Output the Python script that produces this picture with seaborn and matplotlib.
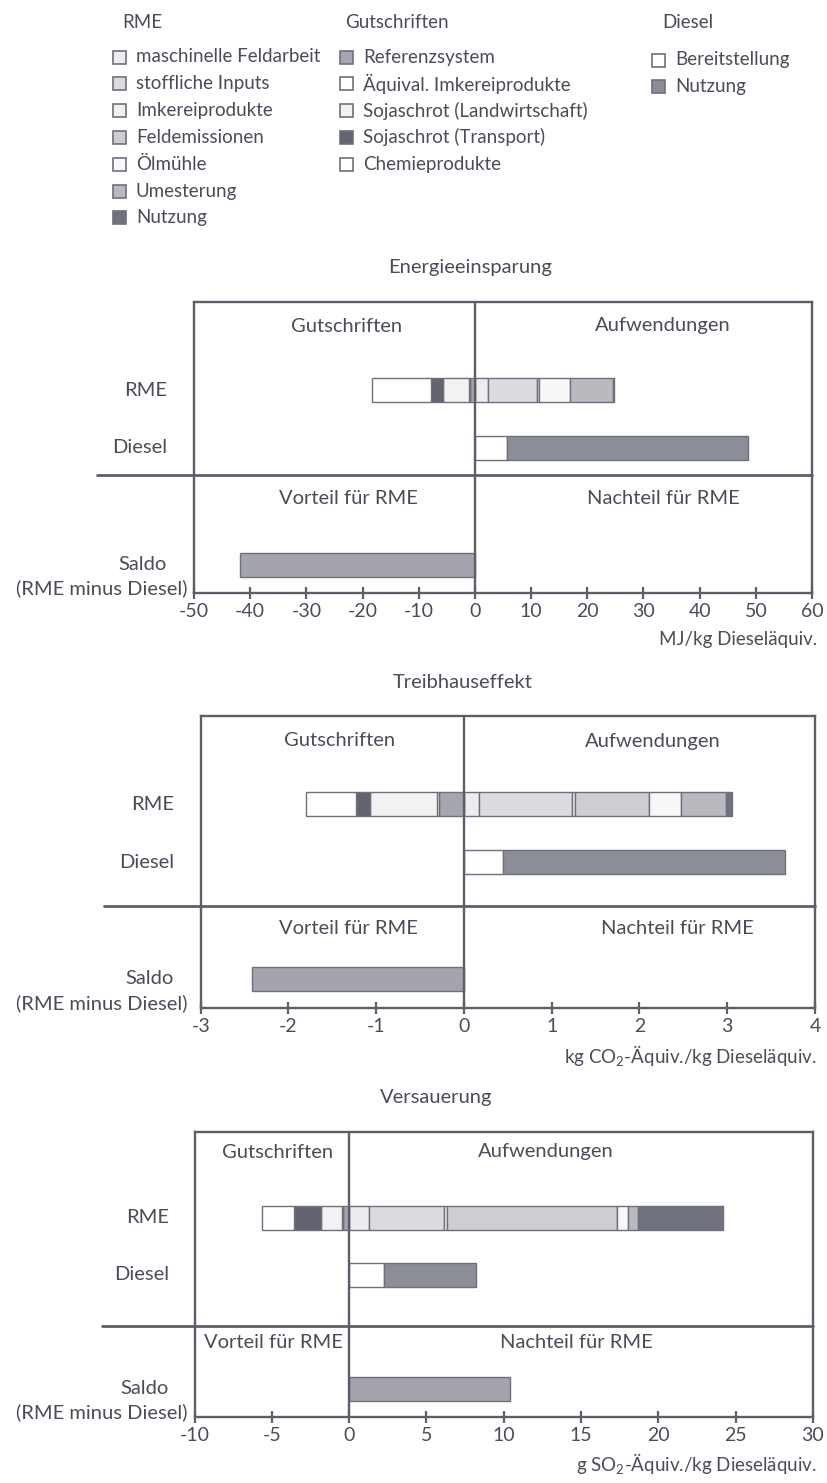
import matplotlib
matplotlib.use("Agg")
import matplotlib.pyplot as plt
import matplotlib.transforms as mtransforms
from matplotlib.patches import Rectangle
import seaborn as sns

# --- Legend categories and colours ---
rme_parts = ["maschinelle Feldarbeit", "stoffliche Inputs", "Imkereiprodukte",
             "Feldemissionen", "Ölmühle", "Umesterung", "Nutzung"]
rme_colors = ["#EDEDEF", "#DCDCE0", "#F1F1F1", "#CDCDD2", "#F7F8F7", "#B9BAC0", "#70727E"]
credit_parts = ["Referenzsystem", "Äquival. Imkereiprodukte", "Sojaschrot (Landwirtschaft)",
                "Sojaschrot (Transport)", "Chemieprodukte"]
credit_colors = ["#A5A6AF", "#FFFFFF", "#F2F2F2", "#62656F", "#FFFFFF"]
diesel_parts = ["Bereitstellung", "Nutzung"]
diesel_colors = ["#FFFFFF", "#8B8D97"]
saldo_color = "#A3A4AD"

# --- Values (credits given as positive amounts) ---
energy_rme = [2.25, 8.78, 0.3, 0.0, 5.58, 7.71, 0.18]
energy_credit = [0.89, 0.2, 4.57, 2.08, 10.56]
energy_diesel = [5.69, 42.9]
energy_saldo = -41.9

ghg_rme = [0.175, 1.06, 0.027, 0.85, 0.357, 0.516, 0.068]
ghg_credit = [0.285, 0.02, 0.763, 0.167, 0.569]
ghg_diesel = [0.44, 3.22]
ghg_saldo = -2.41

acid_rme = [1.29, 4.85, 0.19, 10.99, 0.71, 0.65, 5.50]
acid_credit = [0.39, 0.1, 1.36, 1.72, 2.05]
acid_diesel = [2.24, 5.93]
acid_saldo = 10.4

row_names = ["RME", "Diesel"]

W, H = 828, 1483
LINE = "#5C5E6A"
TXT = "#4A4C58"
EDGE = "#6E707C"
FS = 14.5

sns.set_theme(style="white")
plt.rcParams["font.family"] = ["Lato", "DejaVu Sans"]
plt.rcParams["axes.unicode_minus"] = False
plt.rcParams["mathtext.default"] = "regular"

fig = plt.figure(figsize=(W / 100, H / 100), dpi=100)


def fx(px):
    return px / W


def fy(py):
    return 1 - py / H


def draw_legend():
    lax = fig.add_axes([0, fy(240), 1, 240 / H])
    lax.set_xlim(0, W)
    lax.set_ylim(240, 0)
    lax.axis("off")
    groups = [("RME", 122, 113, rme_parts, rme_colors, 57),
              ("Gutschriften", 345, 340, credit_parts, credit_colors, 57),
              ("Diesel", 662, 652, diesel_parts, diesel_colors, 60)]
    for title, tx, px, names, cols, y0 in groups:
        lax.text(tx, 22, title, fontsize=13.5, color=TXT, va="center", ha="left")
        for i, (n, c) in enumerate(zip(names, cols)):
            y = y0 + i * 26.8
            lax.add_patch(Rectangle((px, y - 6.5), 13, 13, facecolor=c,
                                    edgecolor=EDGE, lw=1.2))
            lax.text(px + 23, y, n, fontsize=13.5, color=TXT, va="center", ha="left")


def draw_chart(cfg, rme, credit, diesel, saldo):
    left, right, top, bottom = cfg["box"]
    hc = bottom - top
    ax = fig.add_axes([fx(left), fy(bottom), fx(right - left), hc / H])
    bh = 24
    y_rme, y_dsl, y_sal = (cfg["rows"][0] - top, cfg["rows"][1] - top, cfg["rows"][2] - top)

    # stacked RME expenditures (right of zero)
    acc = 0.0
    for v, c in zip(rme, rme_colors):
        if v > 0:
            ax.barh(y_rme, v, left=acc, height=bh, color=c, edgecolor=EDGE, lw=1)
        acc += v
    # stacked credits (left of zero)
    acc = 0.0
    for v, c in zip(credit, credit_colors):
        if v > 0:
            ax.barh(y_rme, -v, left=acc, height=bh, color=c, edgecolor=EDGE, lw=1)
        acc -= v
    # diesel
    acc = 0.0
    for v, c in zip(diesel, diesel_colors):
        ax.barh(y_dsl, v, left=acc, height=bh, color=c, edgecolor=EDGE, lw=1)
        acc += v
    # saldo
    sns.barplot(x=[saldo], y=[y_sal], orient="h", native_scale=True, width=bh,
                color=saldo_color, edgecolor=EDGE, linewidth=1, saturation=1, ax=ax)

    ax.set_xlim(*cfg["xlim"])
    ax.set_ylim(hc, 0)
    ax.set_xticks(cfg["ticks"])
    ax.set_xticklabels([str(t) for t in cfg["ticks"]])
    ax.set_yticks([])
    ax.set_xlabel("")
    ax.set_ylabel("")
    ax.tick_params(axis="x", direction="inout", length=8, width=1.6, color=LINE,
                   labelsize=14, labelcolor=TXT, pad=3, bottom=True)
    for s in ax.spines.values():
        s.set_color(LINE)
        s.set_linewidth(1.7)
    ax.axvline(0, color=LINE, lw=1.7, zorder=5)

    # divider between the comparison and the balance
    trans = mtransforms.blended_transform_factory(fig.transFigure, ax.transData)
    ax.plot([fx(cfg["div_x"]), fx(right)], [cfg["div"] - top] * 2, color=LINE,
            lw=2, transform=trans, clip_on=False)

    # section captions
    ft = fig.transFigure
    kw = dict(fontsize=FS, color=TXT, ha="center", va="center", transform=ft)
    (gx, ax_), (vx, nx) = cfg["cap_x"]
    fig.text(fx(gx), fy(cfg["cap_y"][0]), "Gutschriften", **kw)
    fig.text(fx(ax_), fy(cfg["cap_y"][0]), "Aufwendungen", **kw)
    fig.text(fx(vx), fy(cfg["cap_y"][1]), "Vorteil für RME", **kw)
    fig.text(fx(nx), fy(cfg["cap_y"][1]), "Nachteil für RME", **kw)
    fig.text(fx(cfg["title"][0]), fy(cfg["title"][1]), cfg["name"], **kw)

    # row labels
    rk = dict(fontsize=FS, color=TXT, ha="right", va="center", transform=ft)
    fig.text(fx(cfg["lab_x"]), fy(cfg["rows"][0]), row_names[0], **rk)
    fig.text(fx(cfg["lab_x"]), fy(cfg["rows"][1]), row_names[1], **rk)
    fig.text(fx(cfg["lab_x"]), fy(cfg["rows"][2]), "Saldo", **rk)
    fig.text(fx(188), fy(bottom - 5), "(RME minus Diesel)", **rk)

    fig.text(fx(817), fy(bottom + 47), cfg["unit"], fontsize=13.5, color=TXT,
             ha="right", va="center", transform=ft)
    return ax


charts = [
    (dict(name="Energieeinsparung", box=(194, 812, 302, 593), xlim=(-50, 60),
          ticks=list(range(-50, 61, 10)), rows=(390, 447.5, 564.5), div=475, div_x=97,
          cap_x=((347, 663), (348, 663)), cap_y=(326, 498), title=(470, 268),
          lab_x=167, unit="MJ/kg Dieseläquiv."),
     energy_rme, energy_credit, energy_diesel, energy_saldo),
    (dict(name="Treibhauseffekt", box=(200.7, 815, 716, 1008), xlim=(-3, 4),
          ticks=list(range(-3, 5)), rows=(804, 862, 979), div=905.7, div_x=104,
          cap_x=((340, 653), (348, 677)), cap_y=(741, 929), title=(463, 683),
          lab_x=174, unit="kg CO$_2$-Äquiv./kg Dieseläquiv."),
     ghg_rme, ghg_credit, ghg_diesel, ghg_saldo),
    (dict(name="Versauerung", box=(194.6, 813, 1132, 1417), xlim=(-10, 30),
          ticks=list(range(-10, 31, 5)), rows=(1217.5, 1275, 1389), div=1326, div_x=102,
          cap_x=((278, 546), (273, 576)), cap_y=(1152, 1343), title=(436, 1098),
          lab_x=169, unit="g SO$_2$-Äquiv./kg Dieseläquiv."),
     acid_rme, acid_credit, acid_diesel, acid_saldo),
]

draw_legend()
for cfg, r, c, d, s in charts:
    draw_chart(cfg, r, c, d, s)

fig.savefig("out.png", dpi=100)
